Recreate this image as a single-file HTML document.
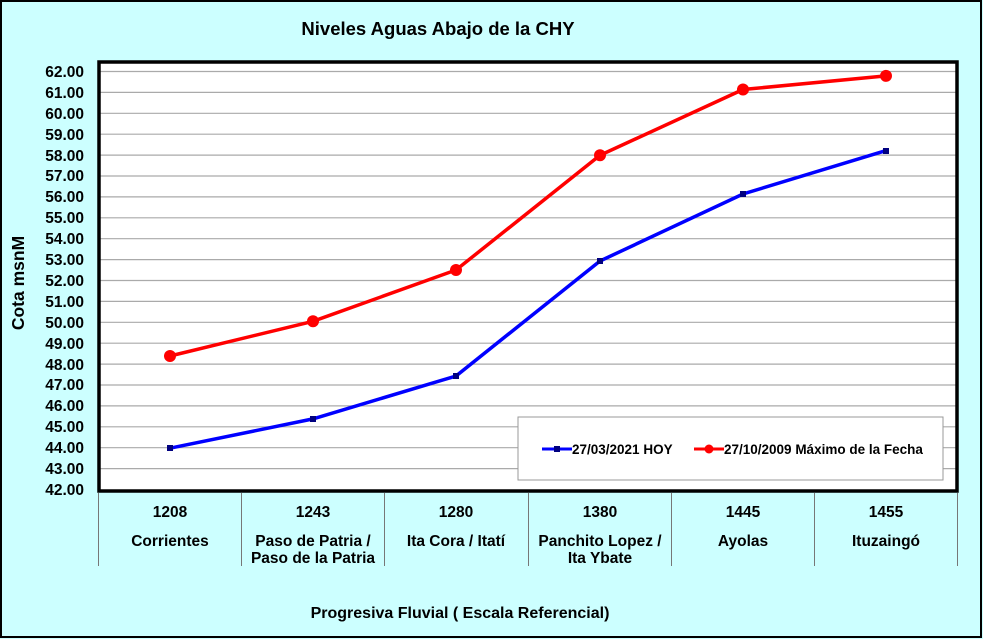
<!DOCTYPE html>
<html><head><style>body{margin:0;background:#cff}svg{display:block}text{font-family:"Liberation Sans",Arial,sans-serif;font-weight:bold;fill:#000}</style></head><body>
<svg width="983" height="639" viewBox="0 0 983 639" xmlns="http://www.w3.org/2000/svg">
<rect x="1" y="1" width="980" height="636" fill="#ccffff" stroke="#000" stroke-width="2"/>
<text x="438" y="35" font-size="18.5" text-anchor="middle">Niveles Aguas Abajo de la CHY</text>
<rect x="98" y="61" width="860" height="430" fill="#fff"/>
<g stroke="#aaa" stroke-width="1.2">
<line x1="98" x2="958" y1="71.5" y2="71.5"/><line x1="98" x2="958" y1="92.4" y2="92.4"/><line x1="98" x2="958" y1="113.3" y2="113.3"/><line x1="98" x2="958" y1="134.2" y2="134.2"/><line x1="98" x2="958" y1="155.1" y2="155.1"/><line x1="98" x2="958" y1="176" y2="176"/><line x1="98" x2="958" y1="196.9" y2="196.9"/><line x1="98" x2="958" y1="217.8" y2="217.8"/><line x1="98" x2="958" y1="238.7" y2="238.7"/><line x1="98" x2="958" y1="259.6" y2="259.6"/><line x1="98" x2="958" y1="280.5" y2="280.5"/><line x1="98" x2="958" y1="301.4" y2="301.4"/><line x1="98" x2="958" y1="322.3" y2="322.3"/><line x1="98" x2="958" y1="343.2" y2="343.2"/><line x1="98" x2="958" y1="364.1" y2="364.1"/><line x1="98" x2="958" y1="385" y2="385"/><line x1="98" x2="958" y1="405.9" y2="405.9"/><line x1="98" x2="958" y1="426.8" y2="426.8"/><line x1="98" x2="958" y1="447.7" y2="447.7"/><line x1="98" x2="958" y1="468.6" y2="468.6"/>
</g>
<g font-size="15.5" text-anchor="end">
<text x="84" y="77">62.00</text><text x="84" y="98">61.00</text><text x="84" y="119">60.00</text><text x="84" y="140">59.00</text><text x="84" y="161">58.00</text><text x="84" y="181">57.00</text><text x="84" y="202">56.00</text><text x="84" y="223">55.00</text><text x="84" y="244">54.00</text><text x="84" y="265">53.00</text><text x="84" y="286">52.00</text><text x="84" y="307">51.00</text><text x="84" y="328">50.00</text><text x="84" y="349">49.00</text><text x="84" y="370">48.00</text><text x="84" y="390">47.00</text><text x="84" y="411">46.00</text><text x="84" y="432">45.00</text><text x="84" y="453">44.00</text><text x="84" y="474">43.00</text><text x="84" y="495">42.00</text>
</g>
<text transform="translate(24,283) rotate(-90)" font-size="17.5" text-anchor="middle">Cota msnM</text>
<polyline fill="none" stroke="#0000ff" stroke-width="3.5" points="170,448.2 313,418.9 456,376 600,261 743,194 886,150.6"/>
<g fill="#000080"><rect x="167" y="445" width="6" height="6"/><rect x="310" y="416" width="6" height="6"/><rect x="453" y="373" width="6" height="6"/><rect x="597" y="258" width="6" height="6"/><rect x="740" y="191" width="6" height="6"/><rect x="883" y="148" width="6" height="6"/></g>
<polyline fill="none" stroke="#ff0000" stroke-width="3.5" points="170,356 313,321.3 456,270 600,155.3 743,89.5 886,75.9"/>
<g fill="#ff0000"><circle cx="170" cy="356" r="6"/><circle cx="313" cy="321.3" r="6"/><circle cx="456" cy="270" r="6"/><circle cx="600" cy="155.3" r="6"/><circle cx="743" cy="89.5" r="6"/><circle cx="886" cy="75.9" r="6"/></g>
<rect x="518" y="417" width="425" height="63" fill="#fff" stroke="#999"/>
<line x1="542" x2="572" y1="449" y2="449" stroke="#0000ff" stroke-width="3"/><rect x="554" y="446" width="6" height="6" fill="#000080"/>
<text x="572" y="454" font-size="13.5">27/03/2021 HOY</text>
<line x1="694" x2="724" y1="449" y2="449" stroke="#ff0000" stroke-width="3"/><circle cx="709" cy="449" r="4.5" fill="#ff0000"/>
<text x="724" y="454" font-size="13.5">27/10/2009 Máximo de la Fecha</text>
<path d="M99,491 V62 H957 V491 Z" fill="none" stroke="#000" stroke-width="3.5"/>
<g stroke="#777" stroke-width="1">
<line x1="98.5" x2="98.5" y1="493" y2="566"/><line x1="241.5" x2="241.5" y1="493" y2="566"/><line x1="384.5" x2="384.5" y1="493" y2="566"/><line x1="528.5" x2="528.5" y1="493" y2="566"/><line x1="671.5" x2="671.5" y1="493" y2="566"/><line x1="814.5" x2="814.5" y1="493" y2="566"/><line x1="957.5" x2="957.5" y1="493" y2="566"/>
</g>
<g font-size="15.5" text-anchor="middle">
<text x="170" y="517">1208</text><text x="313" y="517">1243</text><text x="456" y="517">1280</text><text x="600" y="517">1380</text><text x="743" y="517">1445</text><text x="886" y="517">1455</text>
<text x="170" y="546">Corrientes</text><text x="313" y="546">Paso de Patria /</text><text x="313" y="563">Paso de la Patria</text><text x="456" y="546">Ita Cora / Itatí</text><text x="600" y="546">Panchito Lopez /</text><text x="600" y="563">Ita Ybate</text><text x="743" y="546">Ayolas</text><text x="886" y="546">Ituzaingó</text>
</g>
<text x="460" y="618" font-size="16" text-anchor="middle">Progresiva Fluvial ( Escala Referencial)</text>
</svg>
</body></html>
